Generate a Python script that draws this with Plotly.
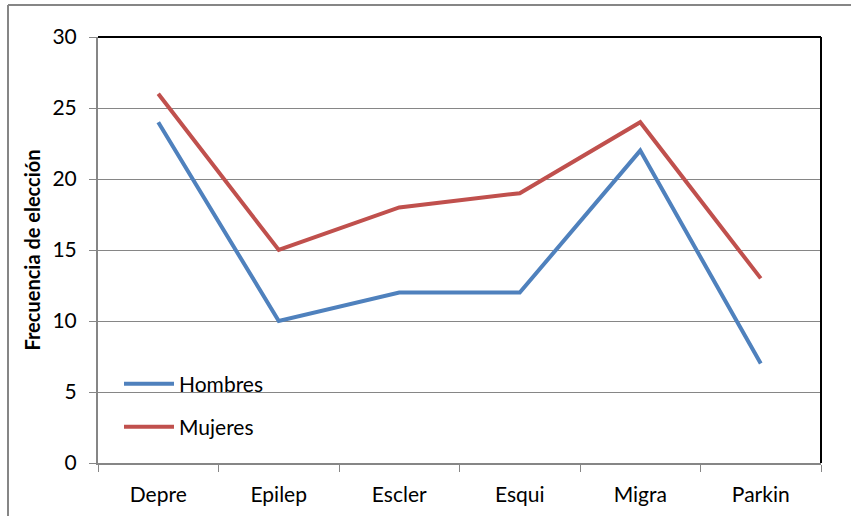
import plotly.graph_objects as go

categorias = ["Depre", "Epilep", "Escler", "Esqui", "Migra", "Parkin"]
hombres = [24, 10, 12, 12, 22, 7]
mujeres = [26, 15, 18, 19, 24, 13]

AZUL = "#4F81BD"
ROJO = "#C0504D"
GRIS = "#868686"
FUENTE = "Lato, 'Open Sans', sans-serif"

W, H = 851, 516
ML, MR, MT, MB = 98, 30, 37, 53
pw, ph = W - ML - MR, H - MT - MB


def px_x(x):
    return (x - ML) / pw


def px_y(y):
    return (H - MB - y) / ph


fig = go.Figure()
fig.add_trace(go.Scatter(x=categorias, y=hombres, name="Hombres", mode="lines",
                         line=dict(color=AZUL, width=4), legend="legend"))
fig.add_trace(go.Scatter(x=categorias, y=mujeres, name="Mujeres", mode="lines",
                         line=dict(color=ROJO, width=4), legend="legend2"))

leg_common = dict(bgcolor="rgba(0,0,0,0)", font=dict(family=FUENTE, size=21, color="black"),
                  xanchor="left", yanchor="middle", itemwidth=50)

fig.update_layout(
    width=W, height=H,
    margin=dict(l=ML, r=MR, t=MT, b=MB, autoexpand=False),
    paper_bgcolor="white", plot_bgcolor="white",
    font=dict(family=FUENTE, size=21, color="black"),
    showlegend=True,
    legend=dict(x=px_x(119), y=px_y(384), **leg_common),
    legend2=dict(x=px_x(119), y=px_y(427), **leg_common),
    xaxis=dict(
        type="category", range=[-0.5, 5.5], automargin=False,
        showline=True, linecolor=GRIS, linewidth=2,
        ticks="outside", tickson="boundaries", ticklen=7, tickcolor=GRIS, tickwidth=1,
        ticklabelstandoff=12, showgrid=False, zeroline=False,
        tickfont=dict(size=21),
    ),
    yaxis=dict(
        range=[0, 30], dtick=5, tick0=0, automargin=False,
        showline=True, linecolor=GRIS, linewidth=2,
        ticks="outside", ticklen=7, tickcolor=GRIS, tickwidth=1,
        ticklabelstandoff=8,
        showgrid=True, gridcolor=GRIS, gridwidth=1, zeroline=False,
        tickfont=dict(size=21),
        title=dict(text="<b>Frecuencia de elección</b>", font=dict(size=20), standoff=6),
    ),
    shapes=[
        # outer chart frame (top and left edges)
        dict(type="line", xref="paper", yref="paper", x0=px_x(8), x1=px_x(851), y0=px_y(5), y1=px_y(5),
             line=dict(color=GRIS, width=2)),
        dict(type="line", xref="paper", yref="paper", x0=px_x(8), x1=px_x(8), y0=px_y(5), y1=px_y(516),
             line=dict(color=GRIS, width=2)),
        # plot area top and right edges
        dict(type="line", xref="paper", yref="paper", x0=0, x1=1, y0=1, y1=1,
             line=dict(color="black", width=2)),
        dict(type="line", xref="paper", yref="paper", x0=1, x1=1, y0=0, y1=1,
             line=dict(color="black", width=2)),
    ],
)

fig.write_html("out.html")
